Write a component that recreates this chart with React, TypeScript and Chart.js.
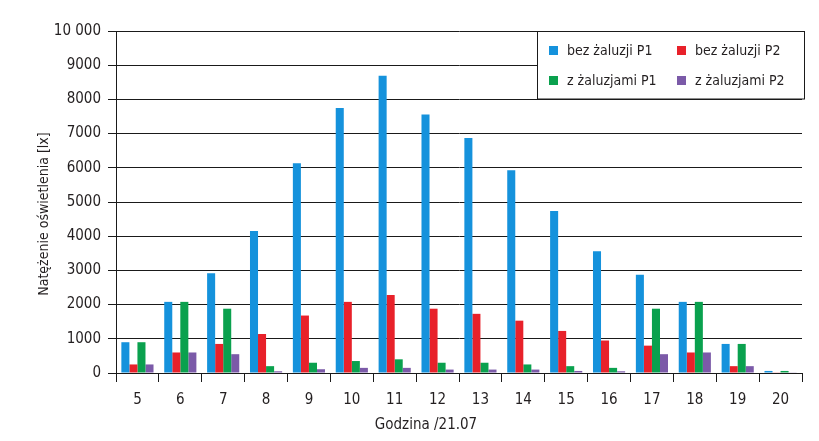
import React, { useEffect, useRef } from "react";
import { Chart, registerables } from "chart.js";

Chart.register(...registerables);

const hours = ["5", "6", "7", "8", "9", "10", "11", "12", "13", "14", "15", "16", "17", "18", "19", "20"];
const seriesLabels = ["bez żaluzji P1", "bez żaluzji P2", "z żaluzjami P1", "z żaluzjami P2"];
const bezP1 = [900, 2080, 2920, 4150, 6130, 7750, 8690, 7560, 6870, 5930, 4740, 3560, 2870, 2080, 850, 60];
const bezP2 = [250, 600, 850, 1140, 1680, 2080, 2280, 1880, 1730, 1530, 1230, 950, 800, 600, 200, 10];
const zP1 = [900, 2080, 1880, 200, 300, 350, 400, 300, 300, 250, 200, 150, 1880, 2080, 850, 60];
const zP2 = [250, 600, 550, 50, 110, 150, 150, 100, 100, 100, 60, 50, 550, 600, 200, 10];
const yTickLabels = ["0", "1000", "2000", "3000", "4000", "5000", "6000", "7000", "8000", "9000", "10 000"];
const xTitle = "Godzina /21.07";
const yTitle = "Natężenie oświetlenia [lx]";

const colors = ["#1592dc", "#e8212a", "#0aa14e", "#7b5aa8"];
const FONT = "'Liberation Sans Narrow', 'Arial Narrow', 'DejaVu Sans Condensed', sans-serif";
const TEXT = "#231f20";
const LINE = "#1a1a1a";

const overlayPlugin = {
  id: "overlay",
  afterDraw(chart: any) {
    const ctx = chart.ctx;
    ctx.save();
    // axis titles
    ctx.fillStyle = TEXT;
    ctx.textAlign = "center";
    ctx.textBaseline = "middle";
    ctx.font = `15px ${FONT}`;
    ctx.fillText(xTitle, 426, 425);
    ctx.save();
    ctx.translate(44, 214);
    ctx.rotate(-Math.PI / 2);
    ctx.font = `14px ${FONT}`;
    ctx.fillText(yTitle, 0, 0);
    ctx.restore();

    // legend box
    const bx = 537.5, by = 31.5, bw = 267, bh = 67.5;
    ctx.fillStyle = "#ffffff";
    ctx.fillRect(bx, by, bw, bh);
    ctx.strokeStyle = LINE;
    ctx.lineWidth = 1;
    ctx.strokeRect(bx, by, bw, bh);
    const ds = chart.data.datasets;
    const cols = [549, 677];
    const rows = [50.5, 80.5];
    ctx.textAlign = "left";
    ctx.textBaseline = "middle";
    ctx.font = `14px ${FONT}`;
    ds.forEach((d: any, i: number) => {
      const x = cols[i % 2];
      const y = rows[Math.floor(i / 2)];
      ctx.fillStyle = d.backgroundColor;
      ctx.fillRect(x, y - 4.5, 9, 9);
      ctx.fillStyle = TEXT;
      ctx.fillText(d.label, x + 18, y + 1);
    });
    ctx.restore();
  },
};

export default function App() {
  const ref = useRef<HTMLCanvasElement | null>(null);
  useEffect(() => {
    document.body.style.margin = "0";
    const series = [bezP1, bezP2, zP1, zP2];
    const chart = new Chart(ref.current as HTMLCanvasElement, {
      type: "bar",
      data: {
        labels: hours,
        datasets: series.map((s, i) => ({
          label: seriesLabels[i],
          data: s,
          backgroundColor: colors[i],
          borderWidth: 0,
          categoryPercentage: 0.75,
          barPercentage: 1.0,
        })),
      },
      options: {
        animation: false,
        responsive: false,
        maintainAspectRatio: false,
        layout: { padding: { left: 0, top: 31, right: 17, bottom: 0 } },
        plugins: { legend: { display: false }, tooltip: { enabled: false } },
        scales: {
          x: {
            grid: { drawOnChartArea: false, drawTicks: true, tickLength: 9, color: LINE, offset: true },
            border: { display: true, color: LINE, width: 1 },
            ticks: { color: TEXT, font: { family: FONT, size: 15 }, padding: 9, maxRotation: 0 },
            afterFit: (s: any) => { s.height = 68; },
          },
          y: {
            min: 0,
            max: 10000,
            grid: { color: LINE, lineWidth: 1, tickLength: 8, drawTicks: true },
            border: { display: true, color: LINE, width: 1 },
            ticks: {
              stepSize: 1000,
              color: TEXT,
              font: { family: FONT, size: 15 },
              padding: 7,
              callback: (_v: any, idx: number) => yTickLabels[idx],
            },
            afterFit: (s: any) => { s.width = 116; },
          },
        },
      },
      plugins: [overlayPlugin],
    });
    return () => chart.destroy();
  }, []);
  return (
    <div style={{ width: 819, height: 441 }}>
      <canvas ref={ref} width={819} height={441} style={{ width: 819, height: 441, display: "block" }} />
    </div>
  );
}
